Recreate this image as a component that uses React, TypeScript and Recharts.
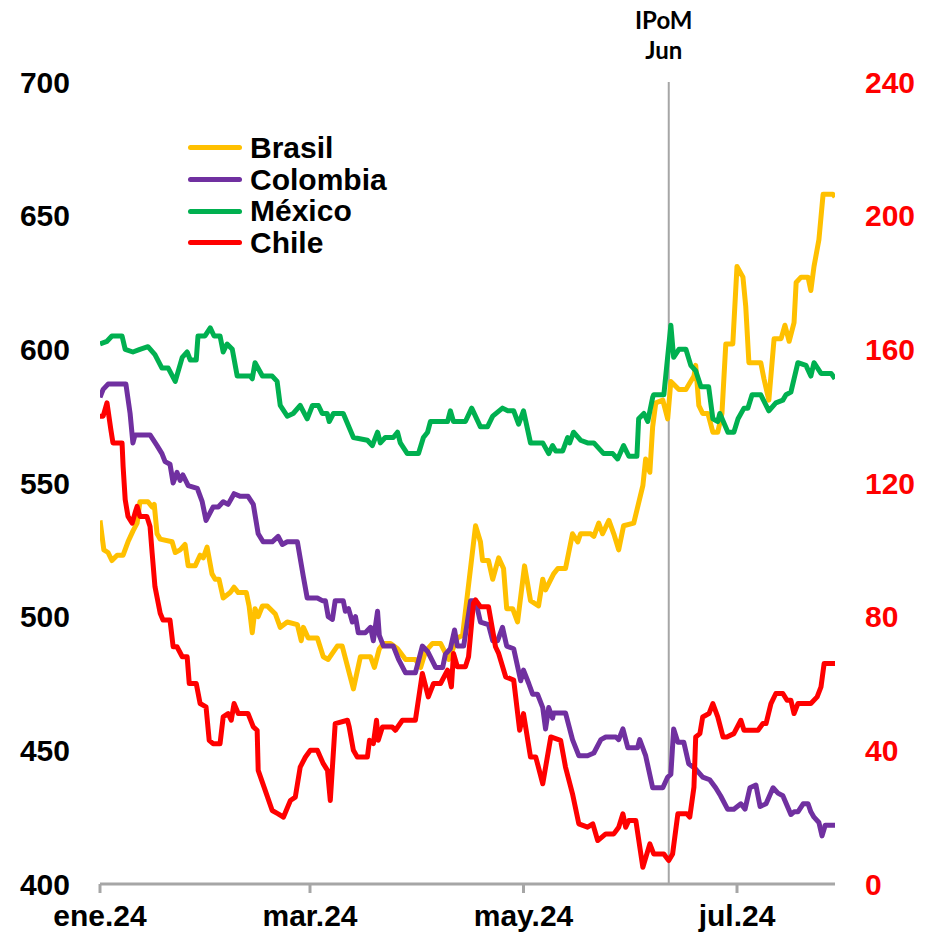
import React from 'react';
import { LineChart, Line, XAxis, YAxis, ReferenceLine } from 'recharts';

// Índices de tipo de cambio (eje izq.) y Chile (eje der.), ene-jul 2024
// x = días desde el 1 de enero de 2024

const tickDays = [0, 60, 121, 182];
const tickLabels = ['ene.24', 'mar.24', 'may.24', 'jul.24'];
const leftTicks = [400, 450, 500, 550, 600, 650, 700];
const rightTicks = [0, 40, 80, 120, 160, 200, 240];
const ipomDay = 162.5;

const brasil: [number, number][] = [
  [0, 536], [1.1, 525], [2.3, 524], [3.4, 521], [4.9, 523], [6.6, 523], [8, 528], [9.4, 532], [10.6, 535],
  [11.4, 543], [13.7, 543], [14.9, 541], [15.5, 542], [16.3, 531], [17.2, 529], [20.6, 528], [21.5, 524],
  [22.9, 525], [24.3, 527], [25.2, 519], [27.2, 519], [28.6, 523], [29.5, 522], [30.6, 526], [32, 516],
  [32.9, 514], [34, 514], [35.2, 507], [37.2, 509], [38.3, 511], [39.5, 509], [41.8, 509], [42.6, 504],
  [43.5, 494], [44.3, 503], [45.2, 500], [46.4, 504], [47.8, 504], [50.1, 501], [51.5, 496], [53.5, 498],
  [56.4, 497], [57.5, 491], [58.1, 496], [59.5, 492], [62.1, 492], [63.8, 485], [65.2, 484], [67.8, 489],
  [69.2, 489], [72.4, 473], [74.4, 485], [77.3, 485], [78.4, 481], [79.8, 488], [81, 490], [83, 490],
  [85, 488], [87.3, 484], [90.1, 484], [91.6, 481], [93, 487], [95, 490], [97.3, 490], [99.6, 484],
  [102.1, 492], [103.6, 493], [107.3, 534], [108.7, 528], [109.3, 521], [111, 521], [112.2, 514],
  [113.9, 522], [115.3, 518], [116.2, 503], [117.9, 503], [119.3, 498], [121.3, 519], [123, 506],
  [125.3, 504], [126.5, 514], [127.3, 510], [129.6, 516], [130.8, 518], [133, 518], [135, 531],
  [136.5, 528], [137.3, 531], [140.2, 531], [141.1, 530], [142.5, 535], [143.6, 531], [145.4, 536],
  [146.8, 531], [148.2, 525], [149.6, 534], [152.5, 535], [155.1, 549], [155.9, 559], [157.1, 554],
  [157.9, 571], [158.8, 580], [160.8, 581], [162.2, 574], [163.1, 588], [165.4, 585], [167.4, 585],
  [169.7, 590], [170.2, 594], [171.1, 579], [172.2, 576], [173.7, 576], [175.1, 569], [176.5, 569],
  [177.7, 576], [178.8, 602], [180.8, 602], [182, 631], [183.7, 627], [184.5, 616], [185.4, 595],
  [188.8, 595], [189.7, 589], [191.1, 581], [192.6, 604], [194.6, 604], [195.7, 609], [196.9, 603],
  [198.3, 610], [198.9, 625], [200.3, 627], [202.3, 627], [203.1, 622], [204, 631], [205.4, 641],
  [206.6, 658], [209.4, 658], [210, 657],
];

const colombia: [number, number][] = [
  [0, 582], [0.9, 585], [2.3, 587], [4.3, 587], [7.4, 587], [8.6, 576], [9.4, 565], [10, 568], [14.3, 568],
  [16.3, 564], [17.7, 561], [18.6, 558], [20, 557], [20.9, 550], [22, 554], [22.9, 551], [23.7, 553],
  [25.2, 549], [27.8, 548], [29.2, 543], [30.3, 536], [32.3, 541], [33.8, 541], [35.2, 543], [36.6, 542],
  [38.3, 546], [40.1, 545], [42.3, 545], [43.8, 542], [45.2, 531], [46.6, 528], [49.2, 528], [50.9, 530],
  [52.1, 527], [53.5, 528], [56.4, 528], [58.1, 515], [59.2, 507], [62.1, 507], [63.5, 506], [64.4, 506],
  [65.2, 500], [66.4, 499], [67.2, 506], [69.5, 506], [70.1, 502], [71, 503], [72.1, 498], [73, 500],
  [73.8, 494], [75.8, 494], [77.3, 496], [78.1, 491], [79.3, 502], [79.8, 493], [81, 489], [83.8, 489],
  [85.3, 484], [87.3, 479], [90.1, 479], [92.1, 489], [93.6, 487], [95.9, 481], [97.9, 481], [98.7, 486],
  [100.1, 488], [101.3, 495], [102.1, 489], [103.9, 489], [105.9, 506], [107.3, 506], [108.7, 498],
  [111, 497], [112.2, 491], [113.6, 491], [115, 496], [116.2, 489], [118.2, 488], [120.2, 476], [121, 480],
  [122.5, 475], [123.6, 471], [125, 471], [126.5, 466], [127.3, 458], [128.2, 466], [129.3, 462],
  [129.6, 464], [133, 464], [135, 454], [136.8, 448], [139.3, 448], [141.1, 449], [143.1, 454],
  [144.5, 455], [147.4, 455], [148.2, 454], [149.4, 458], [150.8, 451], [153.6, 451], [154.2, 454],
  [155.9, 448], [157.9, 436], [160.8, 436], [162.2, 440], [163.1, 441], [163.9, 458], [165.1, 453],
  [166.8, 453], [168.2, 445], [170.2, 443], [172.2, 440], [174.2, 439], [175.9, 436], [177.3, 433],
  [179.3, 428], [181.1, 428], [183.1, 430], [184.3, 428], [185.7, 436], [187.4, 437], [188.6, 429],
  [190.3, 430], [192.3, 436], [193.7, 434], [195.1, 433], [197.4, 426], [198.3, 427], [199.4, 427],
  [200.9, 430], [202.3, 430], [203.1, 427], [204, 425], [205.4, 423], [206.3, 418], [207.2, 422],
  [209.4, 422], [210, 422],
];

const mexico: [number, number][] = [
  [0, 602], [2, 603], [3.4, 605], [6.3, 605], [7.2, 600], [9.4, 599], [11.4, 600], [13.7, 601], [15.7, 598],
  [17.7, 593], [19.5, 593], [21.5, 588], [23.5, 597], [24.9, 599], [25.8, 596], [27.5, 596], [28, 605],
  [30, 605], [31.5, 608], [32.6, 605], [34.3, 605], [35.2, 599], [36.3, 602], [37.8, 600], [39.2, 590],
  [40.9, 590], [42.9, 590], [43.5, 589], [44.3, 595], [46.4, 590], [49.2, 590], [50.6, 588], [51.5, 579],
  [53.5, 575], [55.2, 576], [57.2, 579], [59.2, 574], [60.7, 579], [62.4, 579], [63.5, 576], [64.9, 576],
  [65.5, 573], [66.7, 576], [69.5, 576], [72.4, 567], [76.4, 566], [77.8, 564], [79.3, 569], [80.1, 565],
  [81.5, 567], [83.8, 567], [85, 569], [85.8, 565], [87.8, 561], [91, 561], [92.4, 567], [93.6, 569],
  [94.4, 573], [99.3, 573], [100.1, 577], [101, 573], [104.4, 573], [106.2, 578], [108.7, 571],
  [110.7, 571], [112.2, 575], [115, 578], [116.5, 577], [118.2, 577], [119.6, 572], [121, 577],
  [123, 565], [126.5, 565], [128.2, 561], [129.3, 564], [130.2, 562], [132.2, 562], [133.6, 567],
  [134.2, 565], [135.3, 569], [137.3, 566], [139.3, 565], [141.1, 565], [143.9, 561], [146.5, 561],
  [147.9, 559], [149.6, 564], [151.1, 560], [153.4, 560], [153.9, 574], [155.4, 576], [156.5, 573],
  [157.9, 582], [158.2, 583], [161.1, 583], [163.1, 609], [163.9, 597], [165.4, 600], [167.4, 600],
  [168.8, 594], [170.2, 592], [171.7, 586], [173.9, 586], [175.1, 574], [176.5, 573], [177.1, 576],
  [179.4, 569], [181.1, 569], [182.3, 574], [184, 578], [185.1, 578], [186.3, 583], [188.8, 583],
  [191.1, 577], [193.1, 580], [195.1, 581], [196, 583], [197.4, 584], [199.4, 595], [201.7, 594],
  [203.1, 590], [204, 595], [206, 591], [208.9, 591], [210, 589],
];

const chile: [number, number][] = [
  [0, 140], [0.9, 140], [2, 144], [3.1, 136], [3.7, 132], [4.9, 132], [6.3, 132], [6.6, 125], [7.2, 115],
  [8, 110], [9.2, 108], [10, 111], [10.6, 113], [11.4, 110], [13.4, 110], [14.3, 107], [14.9, 99],
  [15.7, 89], [17.2, 81], [18, 79], [20, 79], [20.9, 71], [22, 71], [23.5, 68], [24.9, 68], [25.5, 60],
  [27.5, 60], [28.6, 54], [30.3, 53], [31.2, 43], [32.3, 42], [34.3, 42], [35.2, 50], [36.6, 51],
  [37.5, 49], [38.3, 54], [39.5, 51], [42.3, 51], [43.8, 47], [44.9, 46], [45.2, 34], [47.2, 28],
  [49.2, 22], [50.9, 21], [52.4, 20], [54.4, 25], [55.8, 26], [57.2, 35], [58.7, 38], [60.1, 40],
  [62.1, 40], [63.8, 36], [65, 34], [65.8, 25], [67.2, 48], [70.7, 49], [71.2, 47], [72.4, 40], [73.5, 38],
  [76.4, 38], [77, 43], [78.1, 42], [79, 49], [79.5, 43], [80.7, 47], [82.4, 47], [83.5, 47], [84.4, 46],
  [86.4, 49], [90.1, 49], [92.1, 63], [93.8, 56], [95.3, 60], [97.3, 60], [99.3, 64], [100.4, 59],
  [101, 69], [102.1, 65], [104.4, 65], [105.3, 68], [106.7, 84], [107.3, 85], [108.7, 83], [111, 83],
  [113, 71], [113.9, 69], [115.9, 62], [118.2, 61], [119.9, 46], [121, 51], [123, 38], [124.5, 38],
  [126.5, 30], [128.8, 44], [131.6, 43], [133, 35], [135, 27], [136.8, 18], [139.3, 17], [140.8, 18],
  [142.2, 13], [144.5, 15], [146.8, 15], [148.2, 17], [149.4, 21], [150.2, 17], [151.1, 19], [153.1, 19],
  [155.1, 5], [157.1, 12], [158.2, 9], [161.1, 9], [162.5, 7], [163.6, 9], [165.1, 21], [167.7, 21],
  [168.5, 20], [169.7, 29], [170.2, 44], [171.4, 45], [172.2, 50], [174, 51], [175.1, 54], [176.5, 50],
  [178, 44], [179.1, 44], [181.1, 45], [183.1, 49], [184, 46], [188, 46], [189.4, 48], [190.3, 48],
  [191.7, 54], [193.1, 57], [195.1, 57], [196.3, 55], [197.4, 55], [198.3, 51], [199.4, 54], [203.1, 54],
  [204.9, 56], [206, 59], [206.9, 66], [209.7, 66], [210, 66],
];

const toPts = (arr: [number, number][]) => arr.map(([d, v]) => ({ d, v }));

const FONT = '"Liberation Sans", Arial, sans-serif';

const series = [
  { name: 'Brasil', color: '#FFC000', data: toPts(brasil), axis: 'left' },
  { name: 'Colombia', color: '#7030A0', data: toPts(colombia), axis: 'left' },
  { name: 'México', color: '#00B050', data: toPts(mexico), axis: 'left' },
  { name: 'Chile', color: '#FF0000', data: toPts(chile), axis: 'right' },
];

const IpomLabel = (props: any) => {
  const vb = props.viewBox || {};
  const cx = vb.x - 5;
  const style = { fontFamily: 'Lato, "Open Sans", sans-serif', fontWeight: 700, fontSize: 24 };
  return (
    <g>
      <text x={cx} y={vb.y - 53} textAnchor="middle" fill="#000" style={style}>IPoM</text>
      <text x={cx} y={vb.y - 23} textAnchor="middle" fill="#000" style={style}>Jun</text>
    </g>
  );
};

function Legend() {
  return (
    <div style={{ position: 'absolute', left: 188, top: 132, fontFamily: FONT, fontWeight: 700, fontSize: 30 }}>
      {series.map((s) => (
        <div key={s.name} style={{ display: 'flex', alignItems: 'center', height: 31.7 }}>
          <span style={{ display: 'inline-block', width: 54, height: 5, borderRadius: 3, background: s.color }} />
          <span style={{ marginLeft: 8, lineHeight: '31.7px', color: '#000' }}>{s.name}</span>
        </div>
      ))}
    </div>
  );
}

export default function App() {
  return (
    <div style={{ position: 'absolute', left: 0, top: 0, width: 935, height: 943, background: '#fff' }}>
      <LineChart width={935} height={943} margin={{ top: 82, right: 0, bottom: 0, left: 0 }}>
        <XAxis
          dataKey="d"
          type="number"
          domain={[0, 210]}
          ticks={tickDays}
          interval={0}
          allowDataOverflow
          tickFormatter={(d: number) => tickLabels[tickDays.indexOf(d)] ?? ''}
          height={59}
          axisLine={{ stroke: '#A6A6A6', strokeWidth: 3 }}
          tickLine={{ stroke: '#A6A6A6', strokeWidth: 3 }}
          tickSize={9}
          tickMargin={12}
          tick={{ fill: '#000', fontSize: 30, fontWeight: 700, fontFamily: FONT }}
        />
        <YAxis
          yAxisId="left"
          domain={[400, 700]}
          ticks={leftTicks}
          interval={0}
          width={100}
          axisLine={false}
          tickLine={false}
          tickSize={0}
          tickMargin={30}
          tick={{ fill: '#000', fontSize: 30, fontWeight: 700, fontFamily: FONT }}
        />
        <YAxis
          yAxisId="right"
          orientation="right"
          domain={[0, 240]}
          ticks={rightTicks}
          interval={0}
          width={100}
          axisLine={false}
          tickLine={false}
          tickSize={0}
          tickMargin={30}
          tick={{ fill: '#FF0000', fontSize: 30, fontWeight: 700, fontFamily: FONT }}
        />
        <ReferenceLine yAxisId="left" x={ipomDay} stroke="#A6A6A6" strokeWidth={2} label={IpomLabel} />
        {series.map((s) => (
          <Line
            key={s.name}
            yAxisId={s.axis}
            data={s.data}
            dataKey="v"
            type="linear"
            stroke={s.color}
            strokeWidth={5}
            strokeLinejoin="round"
            dot={false}
            activeDot={false}
            isAnimationActive={false}
          />
        ))}
      </LineChart>
      <Legend />
    </div>
  );
}
